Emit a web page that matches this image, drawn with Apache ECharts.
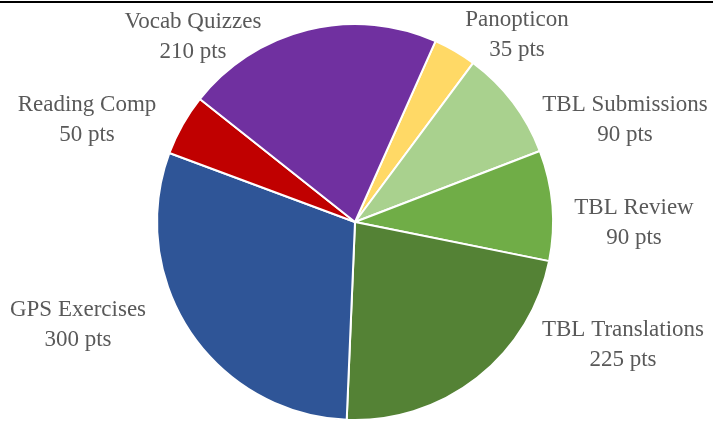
<!DOCTYPE html>
<html>
<head>
<meta charset="utf-8">
<script src="https://cdn.jsdelivr.net/npm/echarts@6/dist/echarts.min.js"></script>
<style>
  html, body { margin: 0; padding: 0; background: #fff; }
  #chart { width: 713px; height: 423px; }
</style>
</head>
<body>
<div id="chart"></div>
<script>
// categories and points, clockwise starting from Panopticon
const categories = ['Panopticon', 'TBL Submissions', 'TBL Review', 'TBL Translations', 'GPS Exercises', 'Reading Comp', 'Vocab Quizzes'];
const points = [35, 90, 90, 225, 300, 50, 210];
const colors = ['#FFD966', '#A9D18E', '#70AD47', '#548235', '#2F5597', '#C00000', '#7030A0'];

// label centres (layout only)
const labelSpots = [[517, 35], [625, 120], [634, 223], [623, 345], [78, 325], [87, 120], [193, 37]];

const chart = echarts.init(document.getElementById('chart'));

const option = {
  animation: false,
  graphic: [{
    type: 'rect',
    shape: { x: 0, y: 1, width: 713, height: 2 },
    style: { fill: '#000' }
  }],
  series: [{
    type: 'pie',
    center: [355, 222],
    radius: 198,
    startAngle: 66,
    clockwise: true,
    data: categories.map((name, i) => ({
      name: name,
      value: points[i],
      itemStyle: { color: colors[i] }
    })),
    itemStyle: { borderColor: '#fff', borderWidth: 2 },
    label: {
      show: true,
      position: 'outside',
      formatter: p => p.name + '\n' + p.value + ' pts',
      fontFamily: 'Liberation Serif',
      fontSize: 23,
      lineHeight: 30,
      color: '#595959',
      align: 'center',
      overflow: 'none'
    },
    labelLine: { show: false },
    labelLayout: function (params) {
      const s = labelSpots[params.dataIndex];
      return { x: s[0], y: s[1], align: 'center', verticalAlign: 'middle' };
    },
    emphasis: { disabled: true }
  }]
};

chart.setOption(option);
</script>
</body>
</html>
